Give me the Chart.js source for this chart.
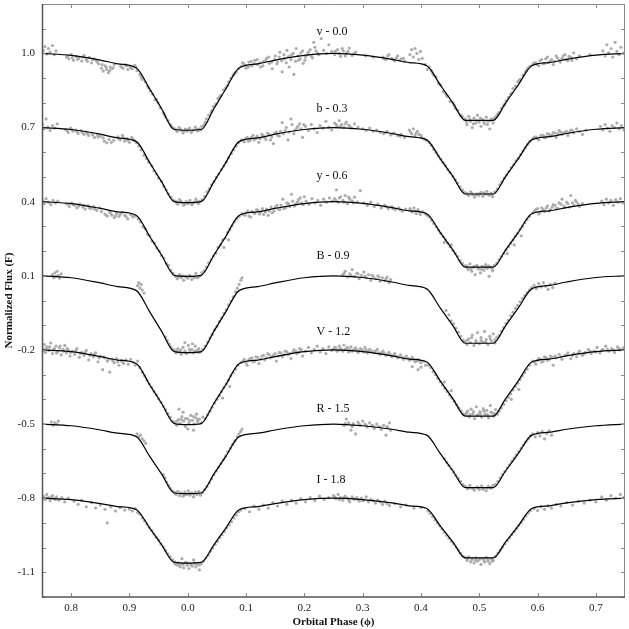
<!DOCTYPE html>
<html>
<head>
<meta charset="utf-8">
<script src="https://cdn.jsdelivr.net/npm/chart.js@4.4.1/dist/chart.umd.min.js"></script>
<style>
  html, body { margin: 0; padding: 0; background: #fff; }
  #wrap { width: 629px; height: 629px; position: relative; }
</style>
</head>
<body>
<div id="wrap"><canvas id="curvas"></canvas></div>
<script>
// bandas: nombre de la etiqueta en el grafico
const bandNames = ['v - 0.0', 'b - 0.3', 'y - 0.6', 'B - 0.9', 'V - 1.2', 'R - 1.5', 'I - 1.8'];

// ticks de los ejes
const phaseTicks = [0.8, 0.9, 1.0, 1.1, 1.2, 1.3, 1.4, 1.5, 1.6, 1.7];
const fluxTicks = [-1.1, -0.8, -0.5, -0.2, 0.1, 0.4, 0.7, 1.0];

// fases del modelo (linea negra)
const modelPhase = [0.75, 0.80, 0.85, 0.88, 0.912, 0.935, 0.955, 0.977, 1.0, 1.023, 1.045, 1.065, 1.088, 1.12, 1.15, 1.20, 1.25,
  1.30, 1.35, 1.38, 1.41, 1.433, 1.455, 1.476, 1.50, 1.524, 1.545, 1.567, 1.59, 1.62, 1.65, 1.70, 1.75];

const modelv = [1.000, 0.992, 0.973, 0.958, 0.941, 0.855, 0.777, 0.692, 0.689, 0.692, 0.777, 0.855, 0.941, 0.958, 0.973, 0.992, 1.000,
  0.993, 0.976, 0.963, 0.950, 0.873, 0.799, 0.729, 0.729, 0.729, 0.799, 0.873, 0.950, 0.963, 0.976, 0.993, 1.000];
const modelb = [0.700, 0.692, 0.673, 0.658, 0.643, 0.557, 0.481, 0.400, 0.396, 0.400, 0.481, 0.557, 0.643, 0.658, 0.673, 0.692, 0.700,
  0.693, 0.676, 0.663, 0.650, 0.574, 0.501, 0.431, 0.431, 0.431, 0.501, 0.574, 0.650, 0.663, 0.676, 0.693, 0.700];
const modely = [0.400, 0.392, 0.373, 0.359, 0.344, 0.258, 0.184, 0.102, 0.098, 0.102, 0.184, 0.258, 0.344, 0.359, 0.373, 0.392, 0.400,
  0.393, 0.376, 0.363, 0.351, 0.276, 0.204, 0.135, 0.135, 0.135, 0.204, 0.276, 0.351, 0.363, 0.376, 0.393, 0.400];
const modelB = [0.100, 0.092, 0.071, 0.056, 0.040, -0.047, -0.124, -0.207, -0.211, -0.207, -0.124, -0.047, 0.040, 0.056, 0.071, 0.092, 0.100,
  0.093, 0.075, 0.061, 0.047, -0.030, -0.103, -0.173, -0.173, -0.173, -0.103, -0.030, 0.047, 0.061, 0.075, 0.093, 0.100];
const modelV = [-0.200, -0.207, -0.227, -0.241, -0.256, -0.342, -0.416, -0.498, -0.502, -0.498, -0.416, -0.342, -0.256, -0.241, -0.227, -0.207, -0.200,
  -0.207, -0.224, -0.237, -0.249, -0.325, -0.398, -0.468, -0.468, -0.468, -0.398, -0.325, -0.249, -0.237, -0.224, -0.207, -0.200];
const modelR = [-0.500, -0.507, -0.524, -0.537, -0.551, -0.632, -0.702, -0.779, -0.782, -0.779, -0.702, -0.632, -0.551, -0.537, -0.524, -0.507, -0.500,
  -0.507, -0.521, -0.533, -0.545, -0.619, -0.690, -0.757, -0.757, -0.757, -0.690, -0.619, -0.545, -0.533, -0.521, -0.507, -0.500];
const modelI = [-0.800, -0.806, -0.822, -0.834, -0.847, -0.922, -0.988, -1.060, -1.063, -1.060, -0.988, -0.922, -0.847, -0.834, -0.822, -0.806, -0.800,
  -0.806, -0.819, -0.831, -0.842, -0.912, -0.978, -1.042, -1.042, -1.042, -0.978, -0.912, -0.842, -0.831, -0.819, -0.806, -0.800];

// observaciones [fase, flujo] (puntos grises)
const obsv = [[0.752,1.012],[0.755,1.028],[0.758,0.998],[0.761,1.020],[0.764,1.005],[0.768,1.032],[0.771,0.995],[0.774,1.010],
  [0.792,0.985],[0.796,0.978],[0.800,0.995],[0.804,0.972],[0.809,0.988],[0.813,0.980],[0.818,0.969],[0.822,0.992],[0.826,0.975],[0.831,0.984],[0.835,0.962],[0.839,0.978],[0.843,0.970],[0.847,0.958],
  [0.852,0.940],[0.855,0.928],[0.858,0.950],[0.861,0.935],[0.864,0.922],[0.867,0.945],[0.870,0.938],[0.874,0.955],
  [0.885,0.948],[0.889,0.940],[0.893,0.955],[0.897,0.935],[0.901,0.946],[0.905,0.938],[0.909,0.952],[0.913,0.930],
  [0.918,0.915],[0.922,0.895],[0.927,0.885],[0.931,0.868],[0.936,0.848],[0.940,0.835],[0.944,0.812],[0.949,0.800],[0.953,0.780],[0.958,0.760],[0.962,0.742],[0.966,0.728],[0.970,0.712],[0.974,0.700],
  [0.978,0.695],[0.982,0.684],[0.985,0.700],[0.989,0.688],[0.992,0.678],[0.996,0.694],[0.999,0.685],[1.003,0.698],[1.006,0.680],[1.010,0.690],[1.013,0.702],[1.017,0.686],[1.020,0.695],[1.024,0.705],
  [1.028,0.712],[1.032,0.735],[1.036,0.750],[1.040,0.762],[1.044,0.785],[1.048,0.795],[1.052,0.818],[1.057,0.830],[1.061,0.852],[1.065,0.860],[1.070,0.885],[1.074,0.900],[1.078,0.912],[1.083,0.925],[1.087,0.938],
  [1.092,0.948],[1.096,0.958],[1.100,0.940],[1.105,0.965],[1.110,0.950],[1.115,0.972],[1.120,0.955],[1.125,0.945],[1.130,0.968],[1.135,0.980],[1.140,0.960],[1.145,0.938],
  [1.150,0.990],[1.154,0.965],[1.158,1.005],[1.162,0.925],[1.166,0.978],[1.170,1.012],[1.174,0.945],[1.178,0.995],[1.182,0.915],[1.186,1.020],[1.190,0.972],[1.194,1.002],[1.198,0.960],[1.202,0.985],
  [1.207,1.005],[1.212,0.990],[1.216,1.045],[1.220,1.010],[1.225,0.995],[1.229,1.060],[1.233,1.012],[1.238,1.000],[1.242,1.035],[1.247,1.008],
  [1.252,0.995],[1.257,1.015],[1.262,0.988],[1.267,1.010],[1.272,1.000],[1.277,1.022],[1.282,0.992],[1.288,1.005],[1.305,0.990],[1.318,0.985],
  [1.335,0.985],[1.340,0.975],[1.345,0.995],[1.350,0.980],[1.355,0.970],[1.360,0.990],[1.366,0.978],[1.372,0.968],
  [1.381,0.995],[1.384,1.015],[1.387,0.985],[1.390,1.020],[1.393,1.000],[1.396,0.975],[1.399,1.008],[1.402,0.980],[1.407,0.955],[1.411,0.935],[1.414,0.945],
  [1.418,0.930],[1.422,0.912],[1.426,0.905],[1.430,0.880],[1.434,0.872],[1.438,0.845],[1.442,0.838],[1.446,0.825],[1.450,0.805],[1.455,0.800],[1.459,0.778],[1.463,0.770],[1.467,0.752],[1.471,0.745],
  [1.476,0.735],[1.479,0.712],[1.482,0.745],[1.485,0.725],[1.488,0.700],[1.491,0.738],[1.494,0.718],[1.497,0.750],[1.500,0.722],[1.503,0.705],[1.506,0.732],[1.509,0.715],[1.512,0.742],[1.515,0.725],[1.518,0.695],[1.521,0.735],[1.524,0.718],[1.527,0.740],
  [1.530,0.748],[1.534,0.760],[1.538,0.778],[1.542,0.790],[1.546,0.808],[1.550,0.822],[1.554,0.835],[1.558,0.858],[1.562,0.868],[1.566,0.885],[1.570,0.895],[1.575,0.912],[1.579,0.925],[1.583,0.940],[1.587,0.948],
  [1.592,0.955],[1.597,0.962],[1.602,0.950],[1.607,0.975],[1.612,0.960],[1.617,0.985],[1.622,0.968],[1.627,0.955],[1.632,0.990],[1.637,0.972],[1.642,0.980],[1.647,0.995],[1.652,0.970],[1.657,0.985],[1.662,1.002],[1.667,0.978],[1.672,0.990],[1.690,0.995],
  [1.712,1.010],[1.716,0.990],[1.719,1.035],[1.722,1.002],[1.726,1.020],[1.729,0.985],[1.733,1.045],[1.736,1.008],[1.740,0.995],[1.743,1.025],[1.747,1.000]];
const obsvMas = [[1.094,0.962],[1.099,0.952],[1.104,0.945],[1.109,0.968],[1.114,0.958],[1.119,0.975],[1.124,0.962],[1.129,0.950],[1.134,0.972],[1.139,0.985],[1.144,0.965],[1.149,0.975],[1.153,0.958],[1.157,0.985],[1.161,0.970],[1.165,0.995],[1.169,0.962],[1.173,0.988],[1.177,0.975],[1.181,1.000],[1.185,0.968],[1.189,0.990],[1.193,0.978],[1.197,1.010],[1.201,0.972],[1.205,0.995],[1.210,1.015],[1.214,0.982],[1.218,1.025],[1.223,1.000],
  [0.794,0.990],[0.802,0.982],[0.811,0.976],[0.820,0.985],[0.828,0.968],[0.837,0.975],[0.845,0.965],[0.853,0.955],[0.860,0.945],[0.866,0.930],[0.872,0.942],[0.887,0.944],[0.895,0.950],[0.903,0.940],[0.911,0.945],
  [1.594,0.962],[1.599,0.955],[1.604,0.970],[1.609,0.958],[1.614,0.978],[1.619,0.965],[1.624,0.975],[1.629,0.968],[1.634,0.982],[1.639,0.965],[1.644,0.990],[1.649,0.975],[1.654,0.988],[1.659,0.972],
  [1.253,1.008],[1.260,1.000],[1.265,1.020],[1.270,0.990],[1.275,1.008],[1.285,0.998],[1.337,0.978],[1.343,0.990],[1.352,0.975],[1.358,0.982],[1.364,0.972],[1.370,0.980],
  [0.980,0.690],[0.987,0.695],[0.994,0.686],[1.001,0.692],[1.008,0.688],[1.015,0.694],[1.022,0.690],
  [1.478,0.722],[1.484,0.732],[1.490,0.715],[1.496,0.728],[1.502,0.738],[1.508,0.722],[1.514,0.712],[1.520,0.728],[1.526,0.735],
  [0.920,0.905],[0.933,0.860],[0.946,0.815],[0.960,0.752],[0.972,0.705],[1.030,0.722],[1.042,0.770],[1.055,0.825],[1.068,0.870],[1.080,0.918],
  [1.420,0.920],[1.432,0.875],[1.444,0.830],[1.457,0.790],[1.469,0.748],[1.532,0.755],[1.544,0.795],[1.556,0.840],[1.568,0.890],[1.581,0.930]];

const obsb = [[0.751,0.712],[0.754,0.695],[0.757,0.735],[0.760,0.702],[0.764,0.688],[0.768,0.708],[0.772,0.698],[0.776,0.715],
  [0.790,0.692],[0.795,0.680],[0.799,0.698],[0.803,0.685],[0.808,0.690],[0.812,0.676],[0.817,0.688],[0.822,0.672],[0.826,0.682],[0.830,0.668],[0.835,0.678],[0.840,0.660],[0.845,0.672],[0.850,0.665],
  [0.857,0.645],[0.861,0.638],[0.865,0.652],[0.869,0.640],[0.873,0.648],
  [0.880,0.662],[0.884,0.650],[0.888,0.668],[0.892,0.645],[0.896,0.655],[0.900,0.640],[0.904,0.660],[0.908,0.648],[0.912,0.638],
  [0.916,0.625],[0.920,0.610],[0.925,0.588],[0.929,0.575],[0.933,0.560],[0.938,0.545],[0.942,0.525],[0.946,0.512],[0.950,0.495],[0.955,0.482],[0.959,0.462],[0.963,0.448],[0.967,0.432],[0.971,0.418],[0.975,0.405],
  [0.979,0.402],[0.983,0.390],[0.986,0.408],[0.990,0.395],[0.993,0.385],[0.997,0.400],[1.000,0.392],[1.004,0.405],[1.007,0.388],[1.011,0.398],[1.014,0.410],[1.018,0.392],[1.021,0.402],
  [1.025,0.408],[1.029,0.422],[1.033,0.440],[1.037,0.452],[1.041,0.468],[1.045,0.482],[1.049,0.498],[1.053,0.512],[1.058,0.530],[1.062,0.545],[1.066,0.560],[1.070,0.578],[1.075,0.595],[1.079,0.610],[1.083,0.625],[1.087,0.638],
  [1.092,0.650],[1.097,0.642],[1.102,0.660],[1.107,0.648],[1.112,0.668],[1.117,0.655],[1.122,0.640],[1.127,0.672],[1.132,0.660],[1.137,0.678],[1.142,0.650],[1.147,0.635],[1.152,0.682],[1.157,0.665],[1.162,0.720],[1.167,0.688],[1.172,0.650],[1.177,0.735],[1.182,0.675],[1.187,0.698],[1.192,0.715],[1.197,0.660],
  [1.202,0.705],[1.207,0.688],[1.212,0.712],[1.217,0.695],[1.222,0.680],[1.227,0.708],[1.232,0.698],[1.237,0.725],[1.242,0.702],[1.247,0.690],
  [1.252,0.718],[1.256,0.705],[1.260,0.728],[1.264,0.712],[1.268,0.700],[1.272,0.722],[1.276,0.710],[1.281,0.698],[1.286,0.715],[1.292,0.702],
  [1.300,0.695],[1.306,0.688],[1.312,0.698],[1.318,0.685],[1.324,0.690],[1.330,0.680],[1.336,0.675],[1.342,0.685],[1.348,0.670],[1.354,0.678],[1.360,0.668],[1.366,0.672],[1.372,0.660],
  [1.380,0.690],[1.384,0.675],[1.387,0.695],[1.390,0.668],[1.394,0.685],[1.397,0.672],[1.401,0.660],[1.405,0.655],[1.409,0.648],
  [1.414,0.640],[1.418,0.628],[1.422,0.612],[1.426,0.600],[1.430,0.585],[1.434,0.572],[1.438,0.558],[1.442,0.545],[1.446,0.530],[1.450,0.518],[1.455,0.502],[1.459,0.488],[1.463,0.475],[1.467,0.460],[1.471,0.448],[1.474,0.438],
  [1.478,0.435],[1.482,0.425],[1.485,0.440],[1.489,0.428],[1.492,0.418],[1.496,0.432],[1.499,0.425],[1.503,0.438],[1.506,0.422],[1.510,0.430],[1.513,0.442],[1.517,0.426],[1.520,0.435],[1.523,0.420],
  [1.527,0.440],[1.531,0.452],[1.535,0.468],[1.539,0.480],[1.543,0.495],[1.547,0.508],[1.551,0.522],[1.555,0.538],[1.559,0.550],[1.563,0.565],[1.567,0.575],[1.571,0.590],[1.575,0.605],[1.579,0.618],[1.583,0.632],[1.587,0.645],
  [1.592,0.655],[1.597,0.662],[1.602,0.650],[1.607,0.668],[1.612,0.658],[1.617,0.675],[1.622,0.665],[1.627,0.680],[1.632,0.660],[1.637,0.688],[1.642,0.672],[1.647,0.682],[1.652,0.668],[1.657,0.690],[1.662,0.678],[1.667,0.695],[1.672,0.684],[1.677,0.672],[1.683,0.690],
  [1.708,0.705],[1.712,0.690],[1.716,0.712],[1.720,0.698],[1.724,0.685],[1.728,0.708],[1.732,0.700],[1.736,0.718],[1.740,0.695],[1.744,0.708],[1.748,0.690]];
const obsbMas = [[1.094,0.648],[1.099,0.655],[1.104,0.645],[1.109,0.660],[1.114,0.650],[1.119,0.665],[1.124,0.655],[1.129,0.668],[1.134,0.652],[1.139,0.672],[1.144,0.662],[1.149,0.678],[1.154,0.668],[1.159,0.685],[1.164,0.675],[1.169,0.700],[1.174,0.682],[1.179,0.712],[1.184,0.690],[1.189,0.705],[1.194,0.695],[1.199,0.712],
  [0.793,0.688],[0.801,0.692],[0.810,0.682],[0.819,0.680],[0.828,0.675],[0.837,0.670],[0.846,0.662],[0.855,0.658],[0.882,0.655],[0.890,0.658],[0.898,0.648],[0.906,0.652],
  [1.594,0.660],[1.600,0.655],[1.605,0.665],[1.610,0.668],[1.615,0.662],[1.620,0.672],[1.625,0.670],[1.630,0.678],[1.635,0.675],[1.640,0.682],[1.645,0.678],[1.650,0.685],[1.655,0.680],[1.660,0.688],
  [1.255,0.712],[1.262,0.705],[1.270,0.715],[1.278,0.705],[1.340,0.680],[1.352,0.675],[1.364,0.665],[1.382,0.682],[1.392,0.678],[1.400,0.668],
  [0.981,0.396],[0.988,0.402],[0.995,0.392],[1.002,0.398],[1.009,0.394],[1.016,0.400],[1.480,0.430],[1.487,0.435],[1.494,0.428],[1.501,0.432],[1.508,0.436],[1.515,0.430],[1.522,0.428]];

const obsy = [[0.751,0.405],[0.754,0.392],[0.757,0.412],[0.761,0.398],[0.765,0.388],[0.769,0.405],[0.773,0.395],[0.777,0.402],
  [0.792,0.392],[0.797,0.380],[0.801,0.395],[0.806,0.385],[0.810,0.375],[0.815,0.390],[0.820,0.378],[0.824,0.370],[0.829,0.384],[0.834,0.372],[0.839,0.380],[0.844,0.365],[0.849,0.375],
  [0.858,0.350],[0.862,0.342],[0.866,0.358],[0.870,0.345],[0.874,0.335],[0.878,0.352],[0.882,0.340],[0.887,0.355],[0.892,0.345],[0.897,0.330],[0.902,0.348],[0.906,0.338],[0.910,0.342],
  [0.915,0.330],[0.919,0.318],[0.923,0.298],[0.927,0.290],[0.931,0.268],[0.935,0.262],[0.939,0.240],[0.943,0.232],[0.947,0.212],[0.951,0.200],[0.955,0.182],[0.959,0.172],[0.963,0.150],[0.967,0.142],[0.971,0.122],[0.975,0.110],
  [0.979,0.098],[0.982,0.088],[0.986,0.105],[0.989,0.092],[0.993,0.082],[0.996,0.098],[1.000,0.090],[1.003,0.102],[1.007,0.085],[1.010,0.096],[1.014,0.110],[1.017,0.092],[1.021,0.100],[1.024,0.112],
  [1.028,0.120],[1.032,0.135],[1.036,0.152],[1.040,0.165],[1.044,0.180],[1.048,0.192],[1.052,0.215],[1.056,0.225],[1.060,0.245],[1.064,0.252],[1.068,0.275],[1.072,0.288],[1.076,0.302],[1.080,0.318],[1.084,0.330],[1.088,0.340],[1.062,0.215],[1.070,0.245],
  [1.093,0.352],[1.098,0.345],[1.103,0.362],[1.108,0.338],[1.113,0.355],[1.118,0.368],[1.123,0.350],[1.128,0.372],[1.133,0.358],[1.138,0.345],[1.143,0.378],[1.148,0.362],[1.153,0.385],[1.158,0.368],[1.163,0.410],[1.168,0.375],[1.173,0.392],[1.178,0.430],[1.183,0.382],[1.188,0.398],[1.193,0.415],[1.198,0.388],
  [1.203,0.402],[1.208,0.390],[1.213,0.412],[1.218,0.395],[1.223,0.405],[1.228,0.385],[1.233,0.410],[1.238,0.398],[1.243,0.415],[1.248,0.402],
  [1.252,0.412],[1.255,0.448],[1.258,0.398],[1.262,0.420],[1.266,0.405],[1.270,0.425],[1.274,0.392],[1.278,0.410],[1.282,0.402],[1.286,0.418],[1.291,0.398],[1.296,0.445],
  [1.302,0.395],[1.308,0.385],[1.314,0.398],[1.320,0.380],[1.326,0.390],[1.332,0.375],[1.338,0.385],[1.344,0.372],[1.350,0.380],[1.356,0.368],[1.362,0.375],[1.368,0.362],[1.374,0.370],
  [1.381,0.372],[1.385,0.358],[1.388,0.375],[1.392,0.352],[1.395,0.368],[1.399,0.348],[1.403,0.360],[1.407,0.352],[1.410,0.345],
  [1.414,0.338],[1.418,0.325],[1.422,0.312],[1.426,0.298],[1.430,0.285],[1.434,0.272],[1.438,0.258],[1.442,0.245],[1.446,0.232],[1.450,0.218],[1.455,0.202],[1.459,0.190],[1.463,0.178],[1.467,0.162],[1.471,0.150],[1.474,0.140],[1.440,0.235],[1.452,0.225],
  [1.478,0.140],[1.481,0.125],[1.484,0.148],[1.487,0.118],[1.490,0.135],[1.493,0.105],[1.496,0.142],[1.499,0.128],[1.502,0.112],[1.505,0.138],[1.508,0.122],[1.511,0.145],[1.514,0.130],[1.517,0.098],[1.520,0.135],[1.523,0.120],[1.526,0.142],
  [1.530,0.150],[1.534,0.165],[1.538,0.178],[1.542,0.190],[1.546,0.205],[1.550,0.218],[1.554,0.232],[1.558,0.245],[1.562,0.260],[1.566,0.272],[1.570,0.288],[1.574,0.300],[1.578,0.315],[1.582,0.328],[1.586,0.340],[1.548,0.190],[1.560,0.225],[1.572,0.262],
  [1.592,0.355],[1.597,0.368],[1.602,0.350],[1.607,0.375],[1.612,0.360],[1.617,0.382],[1.622,0.368],[1.627,0.388],[1.632,0.372],[1.637,0.395],[1.642,0.410],[1.647,0.378],[1.652,0.392],[1.657,0.425],[1.662,0.385],[1.667,0.398],[1.672,0.380],[1.677,0.392],
  [1.710,0.402],[1.714,0.388],[1.718,0.410],[1.722,0.395],[1.726,0.405],[1.730,0.385],[1.734,0.408],[1.738,0.398],[1.742,0.412],[1.746,0.395]];
const obsyMas = [[1.095,0.348],[1.100,0.355],[1.105,0.342],[1.110,0.360],[1.115,0.352],[1.120,0.365],[1.125,0.358],[1.130,0.348],[1.135,0.370],[1.140,0.362],[1.145,0.355],[1.150,0.378],[1.155,0.370],[1.160,0.385],[1.165,0.372],[1.170,0.395],[1.175,0.380],[1.180,0.402],[1.185,0.390],[1.190,0.408],[1.195,0.395],[1.200,0.420],
  [0.795,0.390],[0.804,0.388],[0.813,0.382],[0.822,0.385],[0.831,0.375],[0.840,0.370],[0.852,0.360],[0.860,0.345],[0.868,0.352],[0.876,0.342],[0.884,0.348],[0.894,0.340],[0.904,0.345],
  [1.595,0.362],[1.600,0.372],[1.605,0.358],[1.610,0.368],[1.615,0.375],[1.620,0.362],[1.625,0.378],[1.630,0.385],[1.635,0.372],[1.640,0.390],[1.645,0.382],[1.650,0.398],[1.655,0.378],[1.660,0.395],[1.665,0.405],[1.670,0.388],
  [1.254,0.405],[1.260,0.415],[1.268,0.398],[1.276,0.418],[1.284,0.395],[1.340,0.380],[1.352,0.372],[1.364,0.368],[1.383,0.365],[1.390,0.362],[1.397,0.358],
  [0.984,0.095],[0.991,0.100],[0.998,0.094],[1.005,0.098],[1.012,0.092],[1.019,0.098],[1.480,0.132],[1.486,0.128],[1.492,0.138],[1.498,0.130],[1.504,0.126],[1.510,0.134],[1.516,0.140],[1.522,0.128]];

const obsB = [[0.768,0.105],[0.770,0.092],[0.772,0.112],[0.774,0.098],[0.776,0.118],[0.778,0.102],[0.780,0.090],[0.783,0.108],
  [0.914,0.060],[0.916,0.072],[0.918,0.050],[0.920,0.065],[0.922,0.042],[0.925,0.030],
  [0.962,-0.148],[0.965,-0.162],[0.968,-0.175],[0.971,-0.188],[0.974,-0.198],
  [0.977,-0.200],[0.980,-0.212],[0.983,-0.195],[0.986,-0.208],[0.989,-0.218],[0.992,-0.190],[0.995,-0.205],[0.998,-0.215],[1.001,-0.182],[1.004,-0.208],[1.007,-0.198],[1.010,-0.212],[1.013,-0.185],[1.016,-0.202],[1.019,-0.195],[1.022,-0.208],[0.995,-0.170],[1.008,-0.175],
  [1.026,-0.198],[1.030,-0.185],[1.034,-0.168],[1.038,-0.152],[1.042,-0.138],[1.046,-0.118],[1.050,-0.105],[1.054,-0.085],[1.058,-0.070],[1.062,-0.052],[1.066,-0.038],[1.070,-0.018],[1.074,-0.002],[1.078,0.015],[1.082,0.035],[1.085,0.050],[1.088,0.065],[1.091,0.082],[1.093,0.092],
  [1.266,0.105],[1.270,0.118],[1.274,0.095],[1.278,0.108],[1.282,0.125],[1.286,0.098],[1.290,0.110],[1.294,0.088],[1.298,0.102],[1.302,0.115],[1.306,0.092],[1.310,0.105],[1.314,0.082],[1.318,0.098],[1.322,0.088],[1.326,0.100],[1.330,0.078],[1.334,0.092],[1.338,0.080],[1.342,0.095],[1.345,0.072],[1.348,0.085],
  [1.443,-0.040],[1.448,-0.058],[1.452,-0.082],[1.456,-0.095],[1.460,-0.112],[1.464,-0.128],[1.468,-0.145],[1.472,-0.160],
  [1.476,-0.165],[1.479,-0.178],[1.482,-0.155],[1.485,-0.170],[1.488,-0.140],[1.491,-0.182],[1.494,-0.162],[1.497,-0.130],[1.500,-0.175],[1.503,-0.150],[1.506,-0.168],[1.509,-0.125],[1.512,-0.158],[1.515,-0.178],[1.518,-0.145],[1.521,-0.165],[1.524,-0.135],[1.527,-0.172],[1.530,-0.150],
  [1.534,-0.142],[1.538,-0.125],[1.542,-0.110],[1.546,-0.092],[1.550,-0.080],[1.554,-0.062],[1.558,-0.048],[1.562,-0.032],[1.566,-0.020],[1.570,-0.005],[1.574,0.008],[1.578,0.020],[1.582,0.032],[1.586,0.042],[1.590,0.052],
  [1.594,0.060],[1.598,0.048],[1.602,0.068],[1.606,0.055],[1.610,0.072],[1.614,0.058],[1.618,0.045],[1.622,0.065],[1.626,0.052],[1.630,0.070],
  [0.981,-0.205],[0.988,-0.200],[0.996,-0.210],[1.003,-0.198],[1.012,-0.205],[1.019,-0.210],[1.268,0.110],[1.280,0.102],[1.292,0.108],[1.304,0.098],[1.316,0.102],[1.328,0.095],[1.340,0.088],
  [1.480,-0.160],[1.487,-0.150],[1.495,-0.170],[1.503,-0.162],[1.511,-0.168],[1.519,-0.155],[1.527,-0.160]];

const obsV = [[0.751,-0.195],[0.754,-0.178],[0.756,-0.210],[0.759,-0.188],[0.762,-0.202],[0.765,-0.172],[0.768,-0.215],[0.771,-0.195],[0.774,-0.185],[0.777,-0.208],[0.780,-0.192],[0.783,-0.220],[0.786,-0.198],[0.789,-0.182],[0.792,-0.212],[0.795,-0.200],[0.798,-0.225],
  [0.802,-0.205],[0.806,-0.218],[0.810,-0.195],[0.814,-0.230],[0.818,-0.210],[0.822,-0.222],[0.826,-0.202],[0.830,-0.240],[0.834,-0.215],[0.838,-0.228],[0.842,-0.212],[0.846,-0.248],[0.850,-0.225],[0.854,-0.280],[0.858,-0.232],[0.862,-0.245],[0.866,-0.290],[0.870,-0.238],[0.874,-0.252],[0.878,-0.235],[0.882,-0.262],[0.886,-0.242],[0.890,-0.255],[0.894,-0.240],
  [0.898,-0.258],[0.902,-0.238],[0.906,-0.250],[0.910,-0.262],[0.914,-0.245],
  [0.918,-0.272],[0.922,-0.290],[0.926,-0.305],[0.930,-0.322],[0.934,-0.338],[0.938,-0.352],[0.942,-0.368],[0.946,-0.382],[0.950,-0.398],[0.954,-0.412],[0.958,-0.428],[0.962,-0.442],[0.966,-0.458],[0.970,-0.472],[0.974,-0.488],
  [0.978,-0.492],[0.981,-0.505],[0.984,-0.482],[0.987,-0.498],[0.990,-0.470],[0.993,-0.488],[0.996,-0.510],[0.999,-0.478],[1.002,-0.495],[1.005,-0.465],[1.008,-0.485],[1.011,-0.500],[1.014,-0.475],[1.017,-0.490],[1.020,-0.480],[1.023,-0.495],[0.985,-0.440],[0.992,-0.452],[1.000,-0.520],[1.010,-0.525],[1.015,-0.460],[1.026,-0.472],
  [1.030,-0.478],[1.034,-0.462],[1.038,-0.448],[1.042,-0.432],[1.046,-0.415],[1.050,-0.400],[1.054,-0.385],[1.058,-0.368],[1.062,-0.352],[1.066,-0.338],[1.070,-0.322],[1.074,-0.305],[1.078,-0.292],[1.082,-0.278],[1.086,-0.262],[1.060,-0.395],[1.072,-0.348],
  [1.092,-0.250],[1.097,-0.238],[1.102,-0.262],[1.107,-0.235],[1.112,-0.248],[1.117,-0.228],[1.122,-0.255],[1.127,-0.225],[1.132,-0.240],[1.137,-0.215],[1.142,-0.232],[1.147,-0.222],[1.152,-0.245],[1.157,-0.210],[1.162,-0.228],[1.167,-0.205],[1.172,-0.220],[1.177,-0.235],[1.182,-0.200],[1.187,-0.215],[1.192,-0.195],[1.197,-0.225],
  [1.202,-0.205],[1.207,-0.190],[1.212,-0.212],[1.217,-0.198],[1.222,-0.185],[1.227,-0.208],[1.232,-0.195],[1.237,-0.215],[1.242,-0.188],[1.247,-0.202],
  [1.252,-0.190],[1.256,-0.205],[1.260,-0.185],[1.264,-0.198],[1.268,-0.180],[1.272,-0.195],[1.276,-0.208],[1.280,-0.188],[1.284,-0.200],[1.288,-0.192],[1.292,-0.210],[1.296,-0.195],[1.300,-0.202],[1.304,-0.190],[1.308,-0.212],[1.312,-0.198],[1.316,-0.205],
  [1.320,-0.210],[1.325,-0.198],[1.330,-0.218],[1.335,-0.205],[1.340,-0.222],[1.345,-0.210],[1.350,-0.228],[1.355,-0.215],[1.360,-0.232],[1.365,-0.220],[1.370,-0.238],[1.375,-0.225],[1.380,-0.242],[1.385,-0.230],[1.390,-0.248],[1.395,-0.238],[1.400,-0.252],[1.405,-0.245],[1.385,-0.268],[1.395,-0.280],[1.400,-0.270],[1.408,-0.262],
  [1.413,-0.262],[1.417,-0.272],[1.421,-0.288],[1.425,-0.300],[1.429,-0.315],[1.433,-0.328],[1.437,-0.342],[1.441,-0.355],[1.445,-0.368],[1.449,-0.382],[1.453,-0.395],[1.457,-0.408],[1.461,-0.422],[1.465,-0.435],[1.469,-0.448],[1.473,-0.460],[1.440,-0.330],[1.452,-0.365],
  [1.477,-0.462],[1.480,-0.448],[1.483,-0.470],[1.486,-0.440],[1.489,-0.458],[1.492,-0.478],[1.495,-0.430],[1.498,-0.462],[1.501,-0.450],[1.504,-0.472],[1.507,-0.438],[1.510,-0.460],[1.513,-0.445],[1.516,-0.475],[1.519,-0.425],[1.522,-0.455],[1.525,-0.468],[1.528,-0.442],[1.531,-0.460],
  [1.534,-0.448],[1.538,-0.435],[1.542,-0.420],[1.546,-0.405],[1.550,-0.392],[1.554,-0.378],[1.558,-0.362],[1.562,-0.348],[1.566,-0.335],[1.570,-0.320],[1.574,-0.305],[1.578,-0.292],[1.582,-0.278],[1.586,-0.262],[1.555,-0.400],[1.568,-0.360],
  [1.592,-0.245],[1.597,-0.258],[1.602,-0.235],[1.607,-0.250],[1.612,-0.228],[1.617,-0.242],[1.622,-0.225],[1.627,-0.262],[1.632,-0.232],[1.637,-0.218],[1.642,-0.238],[1.647,-0.222],[1.652,-0.212],[1.657,-0.235],[1.662,-0.215],[1.667,-0.228],[1.672,-0.205],[1.677,-0.222],[1.682,-0.210],[1.687,-0.198],[1.692,-0.215],[1.697,-0.205],[1.702,-0.190],[1.707,-0.212],[1.712,-0.198],[1.717,-0.185],[1.722,-0.205],[1.727,-0.195],[1.732,-0.210],[1.737,-0.188],[1.742,-0.200],[1.747,-0.192]];
const obsVMas = [[0.752,-0.205],[0.757,-0.192],[0.763,-0.188],[0.769,-0.200],[0.775,-0.212],[0.781,-0.185],[0.787,-0.205],[0.793,-0.195],[0.799,-0.210],[0.808,-0.202],[0.816,-0.215],[0.824,-0.210],[0.832,-0.222],[0.840,-0.218],[0.848,-0.232],[0.856,-0.228],[0.864,-0.238],[0.872,-0.245],[0.880,-0.248],[0.888,-0.250],
  [1.095,-0.245],[1.100,-0.252],[1.105,-0.240],[1.110,-0.232],[1.115,-0.245],[1.120,-0.230],[1.125,-0.238],[1.130,-0.222],[1.135,-0.232],[1.140,-0.220],[1.145,-0.228],[1.150,-0.215],[1.155,-0.225],[1.160,-0.212],[1.165,-0.220],[1.170,-0.208],[1.175,-0.215],[1.180,-0.210],[1.185,-0.205],[1.190,-0.210],[1.195,-0.200],
  [1.250,-0.198],[1.254,-0.192],[1.258,-0.202],[1.262,-0.195],[1.266,-0.205],[1.270,-0.198],[1.274,-0.190],[1.278,-0.200],[1.282,-0.205],[1.286,-0.198],[1.290,-0.200],[1.294,-0.205],[1.298,-0.198],[1.302,-0.208],[1.306,-0.200],[1.310,-0.205],[1.322,-0.205],[1.328,-0.212],[1.333,-0.210],[1.338,-0.215],[1.343,-0.218],[1.348,-0.220],[1.353,-0.222],[1.358,-0.225],[1.363,-0.228],[1.368,-0.230],[1.373,-0.232],[1.378,-0.235],[1.383,-0.238],[1.388,-0.240],[1.393,-0.244],[1.398,-0.245],
  [1.595,-0.250],[1.600,-0.242],[1.605,-0.238],[1.610,-0.245],[1.615,-0.232],[1.620,-0.238],[1.625,-0.230],[1.630,-0.225],[1.640,-0.228],[1.650,-0.220],[1.660,-0.222],[1.670,-0.212],[1.680,-0.215],[1.690,-0.205],[1.700,-0.208],[1.710,-0.202],[1.720,-0.198],[1.730,-0.200],[1.740,-0.195],
  [0.982,-0.488],[0.989,-0.482],[0.996,-0.478],[1.003,-0.485],[1.010,-0.470],[1.017,-0.482],[1.478,-0.455],[1.484,-0.462],[1.490,-0.450],[1.496,-0.465],[1.502,-0.458],[1.508,-0.448],[1.514,-0.462],[1.520,-0.452],[1.526,-0.458]];

const obsR = [[0.766,-0.492],[0.769,-0.505],[0.772,-0.495],[0.775,-0.500],[0.778,-0.488],
  [0.913,-0.540],[0.916,-0.552],[0.919,-0.545],[0.922,-0.560],[0.925,-0.568],[0.928,-0.578],
  [0.958,-0.705],[0.961,-0.718],[0.964,-0.735],[0.967,-0.748],[0.970,-0.760],[0.973,-0.770],
  [0.977,-0.775],[0.980,-0.785],[0.983,-0.772],[0.986,-0.790],[0.989,-0.778],[0.992,-0.792],[0.995,-0.775],[0.998,-0.785],[1.001,-0.770],[1.004,-0.788],[1.007,-0.778],[1.010,-0.795],[1.013,-0.775],[1.016,-0.785],[1.019,-0.772],[1.022,-0.788],[1.025,-0.778],
  [1.029,-0.765],[1.033,-0.752],[1.037,-0.738],[1.041,-0.722],[1.045,-0.705],[1.049,-0.690],[1.053,-0.675],[1.057,-0.660],[1.061,-0.645],[1.065,-0.630],[1.069,-0.612],[1.073,-0.598],[1.077,-0.582],[1.081,-0.568],[1.085,-0.552],[1.088,-0.540],[1.091,-0.530],[1.093,-0.520],
  [1.268,-0.505],[1.272,-0.480],[1.276,-0.495],[1.280,-0.525],[1.284,-0.498],[1.288,-0.540],[1.292,-0.492],[1.296,-0.505],[1.300,-0.488],[1.304,-0.500],[1.308,-0.512],[1.312,-0.495],[1.316,-0.505],[1.320,-0.518],[1.324,-0.500],[1.328,-0.510],[1.332,-0.522],[1.336,-0.505],[1.340,-0.545],[1.343,-0.515],[1.346,-0.495],[1.348,-0.525],
  [1.440,-0.640],[1.444,-0.655],[1.448,-0.668],[1.452,-0.682],[1.456,-0.695],[1.460,-0.708],[1.464,-0.720],[1.468,-0.732],[1.472,-0.745],
  [1.476,-0.752],[1.480,-0.762],[1.484,-0.748],[1.488,-0.760],[1.492,-0.768],[1.496,-0.755],[1.500,-0.765],[1.504,-0.750],[1.508,-0.762],[1.512,-0.770],[1.516,-0.752],[1.520,-0.760],[1.524,-0.748],
  [1.528,-0.745],[1.532,-0.732],[1.536,-0.718],[1.540,-0.705],[1.544,-0.692],[1.548,-0.678],[1.552,-0.665],[1.556,-0.650],[1.560,-0.638],[1.564,-0.625],[1.568,-0.612],[1.572,-0.598],[1.576,-0.585],[1.580,-0.572],[1.584,-0.560],[1.588,-0.548],
  [1.592,-0.540],[1.596,-0.552],[1.600,-0.535],[1.604,-0.548],[1.608,-0.530],[1.612,-0.560],[1.616,-0.538],[1.620,-0.528],[1.624,-0.545],
  [0.979,-0.780],[0.987,-0.782],[0.995,-0.785],[1.003,-0.780],[1.011,-0.784],[1.019,-0.780],[1.270,-0.498],[1.282,-0.510],[1.294,-0.500],[1.306,-0.505],[1.318,-0.508],[1.330,-0.512],[1.342,-0.510],
  [1.482,-0.758],[1.490,-0.762],[1.498,-0.758],[1.506,-0.764],[1.514,-0.758],[1.522,-0.755]];

const obsI = [[0.752,-0.792],[0.755,-0.805],[0.758,-0.785],[0.761,-0.798],[0.764,-0.810],[0.768,-0.790],[0.771,-0.802],[0.775,-0.795],[0.779,-0.808],[0.784,-0.798],[0.789,-0.815],[0.795,-0.800],
  [0.805,-0.812],[0.812,-0.825],[0.818,-0.808],[0.826,-0.835],[0.835,-0.818],[0.842,-0.840],[0.850,-0.828],[0.858,-0.845],[0.862,-0.900],[0.868,-0.835],[0.876,-0.852],[0.884,-0.838],[0.892,-0.848],
  [0.900,-0.845],[0.905,-0.852],[0.910,-0.842],[0.914,-0.858],
  [0.918,-0.865],[0.922,-0.880],[0.926,-0.892],[0.930,-0.905],[0.934,-0.918],[0.938,-0.930],[0.942,-0.945],[0.946,-0.958],[0.950,-0.970],[0.954,-0.985],[0.958,-0.998],[0.962,-1.012],[0.966,-1.025],[0.970,-1.038],[0.974,-1.050],
  [0.978,-1.058],[0.981,-1.070],[0.984,-1.062],[0.987,-1.078],[0.990,-1.065],[0.993,-1.082],[0.996,-1.060],[0.999,-1.072],[1.002,-1.085],[1.005,-1.065],[1.008,-1.075],[1.011,-1.062],[1.014,-1.078],[1.017,-1.068],[1.020,-1.090],[1.023,-1.065],[0.990,-1.045],[1.010,-1.050],
  [1.027,-1.055],[1.031,-1.042],[1.035,-1.030],[1.039,-1.015],[1.043,-1.002],[1.047,-0.988],[1.051,-0.975],[1.055,-0.960],[1.059,-0.948],[1.063,-0.935],[1.067,-0.920],[1.071,-0.908],[1.075,-0.895],[1.079,-0.880],[1.083,-0.868],[1.087,-0.855],[1.091,-0.848],
  [1.098,-0.842],[1.106,-0.855],[1.114,-0.832],[1.122,-0.845],[1.130,-0.828],[1.138,-0.840],[1.146,-0.818],[1.154,-0.832],[1.162,-0.812],[1.170,-0.825],[1.178,-0.808],[1.186,-0.820],[1.194,-0.802],[1.202,-0.815],[1.210,-0.798],[1.218,-0.810],[1.226,-0.792],[1.234,-0.805],[1.242,-0.798],
  [1.250,-0.790],[1.254,-0.802],[1.258,-0.785],[1.262,-0.798],[1.266,-0.808],[1.270,-0.792],[1.274,-0.800],[1.278,-0.815],[1.282,-0.795],[1.286,-0.805],[1.290,-0.798],[1.294,-0.812],[1.298,-0.800],[1.302,-0.808],[1.306,-0.795],[1.310,-0.815],[1.314,-0.805],[1.318,-0.810],[1.322,-0.820],[1.326,-0.808],[1.330,-0.815],[1.334,-0.825],[1.338,-0.812],[1.342,-0.822],[1.346,-0.830],
  [1.355,-0.822],[1.365,-0.835],[1.375,-0.828],[1.388,-0.840],[1.400,-0.838],
  [1.412,-0.852],[1.416,-0.862],[1.420,-0.875],[1.424,-0.888],[1.428,-0.900],[1.432,-0.912],[1.436,-0.925],[1.440,-0.938],[1.444,-0.950],[1.448,-0.962],[1.452,-0.975],[1.456,-0.985],[1.460,-0.998],[1.464,-1.010],[1.468,-1.022],[1.472,-1.035],
  [1.476,-1.040],[1.479,-1.052],[1.482,-1.038],[1.485,-1.058],[1.488,-1.045],[1.491,-1.062],[1.494,-1.042],[1.497,-1.055],[1.500,-1.048],[1.503,-1.068],[1.506,-1.045],[1.509,-1.058],[1.512,-1.040],[1.515,-1.055],[1.518,-1.065],[1.521,-1.045],[1.524,-1.052],
  [1.528,-1.035],[1.532,-1.022],[1.536,-1.010],[1.540,-0.998],[1.544,-0.985],[1.548,-0.972],[1.552,-0.960],[1.556,-0.948],[1.560,-0.935],[1.564,-0.922],[1.568,-0.910],[1.572,-0.898],[1.576,-0.885],[1.580,-0.872],[1.584,-0.860],[1.588,-0.850],
  [1.594,-0.842],[1.600,-0.850],[1.606,-0.835],[1.612,-0.845],[1.618,-0.830],[1.624,-0.840],[1.632,-0.825],[1.640,-0.832],[1.650,-0.818],[1.660,-0.828],[1.670,-0.812],[1.680,-0.820],[1.690,-0.808],[1.700,-0.815],[1.710,-0.795],[1.718,-0.808],[1.726,-0.790],[1.734,-0.800],[1.742,-0.785],[1.748,-0.798],
  [0.978,-1.065],[0.985,-1.070],[0.992,-1.068],[0.999,-1.062],[1.006,-1.072],[1.013,-1.065],[1.020,-1.070],[1.480,-1.045],[1.487,-1.050],[1.494,-1.052],[1.501,-1.045],[1.508,-1.050],[1.515,-1.048],[1.522,-1.055],
  [1.252,-0.795],[1.260,-0.805],[1.268,-0.798],[1.276,-0.808],[1.284,-0.802],[1.292,-0.805],[1.300,-0.810],[0.757,-0.800],[0.766,-0.795],[0.773,-0.805]];

const observaciones = [obsv.concat(obsvMas), obsb.concat(obsbMas), obsy.concat(obsyMas), obsB, obsV.concat(obsVMas), obsR, obsI];
const modelos = [modelv, modelb, modely, modelB, modelV, modelR, modelI];

// donde va cada etiqueta (fase, flujo de la linea base del texto)
const labelPhase = 1.221;
const labelFlux = [1.073, 0.763, 0.492, 0.168, -0.140, -0.452, -0.740];

const serif = "'Liberation Serif', 'Times New Roman', serif";

const datasets = [];
observaciones.forEach((obs, i) => {
    datasets.push({ // puntos grises
        data: obs.map(([x, y]) => ({ x, y })),
        showLine: false,
        pointRadius: 1.6,
        pointBorderWidth: 0,
        pointBackgroundColor: '#adadad',
        order: 2
    });
    datasets.push({ // modelo
        data: modelPhase.map((x, k) => ({ x, y: modelos[i][k] })),
        showLine: true,
        borderColor: '#000',
        borderWidth: 1.2,
        pointRadius: 0,
        cubicInterpolationMode: 'monotone',
        order: 1
    });
});

// marco y ticks hacia adentro
const marcoTicks = {
    id: 'marcoTicks',
    afterDatasetsDraw(chart) {
        const { ctx, chartArea: a, scales: { x, y } } = chart;
        ctx.save();
        ctx.strokeStyle = '#8a8a8a';
        ctx.lineWidth = 1;
        ctx.beginPath();
        ctx.moveTo(a.left, a.top + 0.5); ctx.lineTo(a.right, a.top + 0.5);
        ctx.moveTo(a.right - 0.5, a.top); ctx.lineTo(a.right - 0.5, a.bottom);
        for (let k = -12; k <= 12; k++) {
            const py = Math.round(y.getPixelForValue(k / 10)) + 0.5;
            ctx.moveTo(a.left, py); ctx.lineTo(a.left + 4, py);
            ctx.moveTo(a.right - 4, py); ctx.lineTo(a.right, py);
        }
        phaseTicks.forEach(v => {
            const px = Math.round(x.getPixelForValue(v)) + 0.5;
            ctx.moveTo(px, a.bottom); ctx.lineTo(px, a.bottom - 4);
            ctx.moveTo(px, a.top); ctx.lineTo(px, a.top + 4);
        });
        ctx.stroke();
        ctx.strokeStyle = '#555';
        ctx.lineWidth = 1.5;
        ctx.beginPath();
        ctx.moveTo(a.left + 0.5, a.top); ctx.lineTo(a.left + 0.5, a.bottom);
        ctx.lineTo(a.right, a.bottom);
        ctx.stroke();

        // etiquetas de las bandas
        ctx.fillStyle = '#111';
        ctx.font = '12px ' + serif;
        ctx.textAlign = 'left';
        ctx.textBaseline = 'alphabetic';
        bandNames.forEach((t, i) => {
            ctx.fillText(t, x.getPixelForValue(labelPhase), y.getPixelForValue(labelFlux[i]));
        });

        // titulos de los ejes
        ctx.font = 'bold 11px ' + serif;
        ctx.textAlign = 'center';
        ctx.fillText('Orbital Phase (\u03D5)', (a.left + a.right) / 2, 625);
        ctx.translate(11.5, (a.top + a.bottom) / 2);
        ctx.rotate(-Math.PI / 2);
        ctx.fillText('Normalized Flux (F)', 0, 0);
        ctx.restore();
    }
};

const ctx = document.getElementById('curvas').getContext('2d');

const miGrafico = new Chart(ctx, {
    type: 'scatter',
    data: { datasets },
    options: {
        responsive: true,
        maintainAspectRatio: false,
        animation: false,
        layout: { padding: { top: 2, right: 2, left: 0, bottom: 0 } },
        plugins: { legend: { display: false }, tooltip: { enabled: false } },
        scales: {
            x: {
                type: 'linear',
                min: 0.75,
                max: 1.75,
                grid: { display: false, drawTicks: false },
                border: { display: false },
                afterBuildTicks: s => { s.ticks = phaseTicks.map(v => ({ value: v })); },
                afterFit: s => { s.height = 32; s.paddingLeft = 0; s.paddingRight = 0; },
                ticks: {
                    padding: 5,
                    color: '#222',
                    font: { family: serif, size: 11 },
                    callback: v => ((Math.round(v * 10) % 10) / 10).toFixed(1)
                }
            },
            y: {
                min: -1.2,
                max: 1.2,
                grid: { display: false, drawTicks: false },
                border: { display: false },
                afterBuildTicks: s => { s.ticks = fluxTicks.map(v => ({ value: v })); },
                afterFit: s => { s.width = 42; s.paddingTop = 0; s.paddingBottom = 0; },
                ticks: {
                    padding: 7,
                    color: '#222',
                    font: { family: serif, size: 11 },
                    callback: v => v.toFixed(1)
                }
            }
        }
    },
    plugins: [marcoTicks]
});
</script>
</body>
</html>
